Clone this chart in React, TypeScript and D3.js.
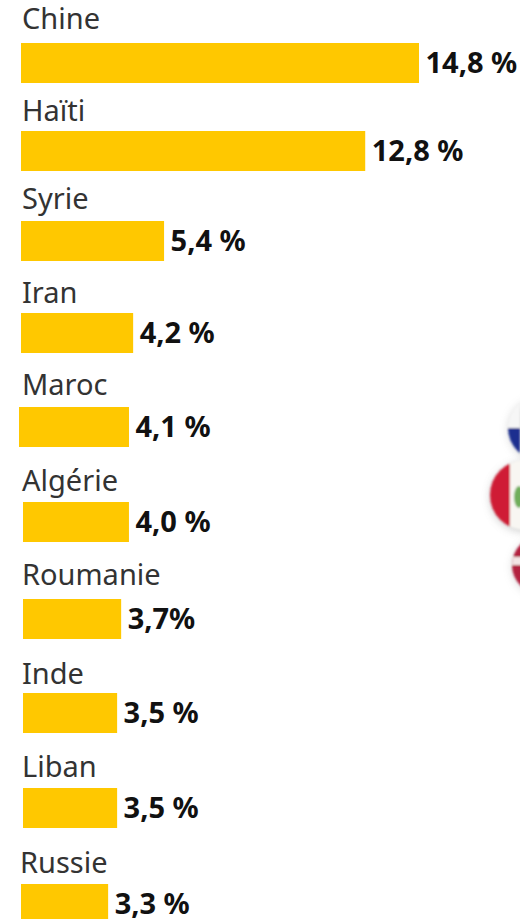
import React from "react";
import * as d3 from "d3";

const categories = ["Chine","Haïti","Syrie","Iran","Maroc","Algérie","Roumanie","Inde","Liban","Russie"];
const barValues = [14.8,12.8,5.32,4.17,4.09,3.94,3.65,3.5,3.5,3.24];
const valueLabels = ["14,8 %","12,8 %","5,4 %","4,2 %","4,1 %","4,0 %","3,7%","3,5 %","3,5 %","3,3 %"];
const barLefts = [21,21,21,21,19,23,23,23,23,21];
const barTops = [43,131,221,313,407,502,599,693,788,884];
const labelBaselines = [29,121,209,303,395,491,585,684,777,873];
const labelLefts = [22,22,22,22,22,22,22,22,22,20];

const x = d3.scaleLinear().domain([0,14.8]).range([0,398]);
const font = "'Noto Sans', 'Open Sans', sans-serif";

export default function App() {
  return (
    <svg width={520} height={919} style={{position:"absolute",left:0,top:0,background:"#fff"}}>
      <defs>
        <filter id="soft" x="-30%" y="-30%" width="160%" height="160%"><feGaussianBlur stdDeviation={1}/></filter>
        <filter id="shadow" x="-30%" y="-30%" width="160%" height="160%"><feGaussianBlur stdDeviation={4}/></filter>
        <clipPath id="f1"><circle cx={540} cy={428} r={32}/></clipPath>
        <clipPath id="f2"><circle cx={525} cy={495} r={35}/></clipPath>
        <clipPath id="f3"><circle cx={541} cy={565} r={29}/></clipPath>
      </defs>
      <circle cx={540} cy={430} r={32} fill="#999" opacity={0.35} filter="url(#shadow)"/>
      <g filter="url(#soft)">
        <g clipPath="url(#f1)">
          <rect x={500} y={390} width={20} height={38} fill="#f6f6f6"/>
          <rect x={500} y={428} width={20} height={35} fill="#1c2f8f"/>
        </g>
      </g>
      <circle cx={541} cy={567} r={29} fill="#999" opacity={0.35} filter="url(#shadow)"/>
      <g filter="url(#soft)">
        <g clipPath="url(#f3)">
          <rect x={505} y={530} width={20} height={70} fill="#b3203f"/>
          <rect x={505} y={557} width={20} height={8} fill="#f3e6e6"/>
        </g>
      </g>
      <circle cx={525} cy={497} r={35} fill="#888" opacity={0.4} filter="url(#shadow)"/>
      <g filter="url(#soft)">
        <g clipPath="url(#f2)">
          <rect x={488} y={458} width={22} height={75} fill="#cf1f35"/>
          <rect x={510} y={458} width={12} height={75} fill="#f8f6f2"/>
          <ellipse cx={519} cy={497} rx={5} ry={11} fill="#6fae5a"/>
        </g>
      </g>
      {categories.map((c,i)=>{
        const w = x(barValues[i]);
        return (
          <g key={c}>
            <text x={labelLefts[i]} y={labelBaselines[i]} fontFamily={font} fontSize={29} fill="#333">{c}</text>
            <rect x={barLefts[i]} y={barTops[i]} width={w} height={40} fill="#ffc800"/>
            <text x={barLefts[i]+w+6.5} y={barTops[i]+30} fontFamily={font} fontSize={29} fontWeight={700} fill="#111">{valueLabels[i]}</text>
          </g>
        );
      })}
    </svg>
  );
}
